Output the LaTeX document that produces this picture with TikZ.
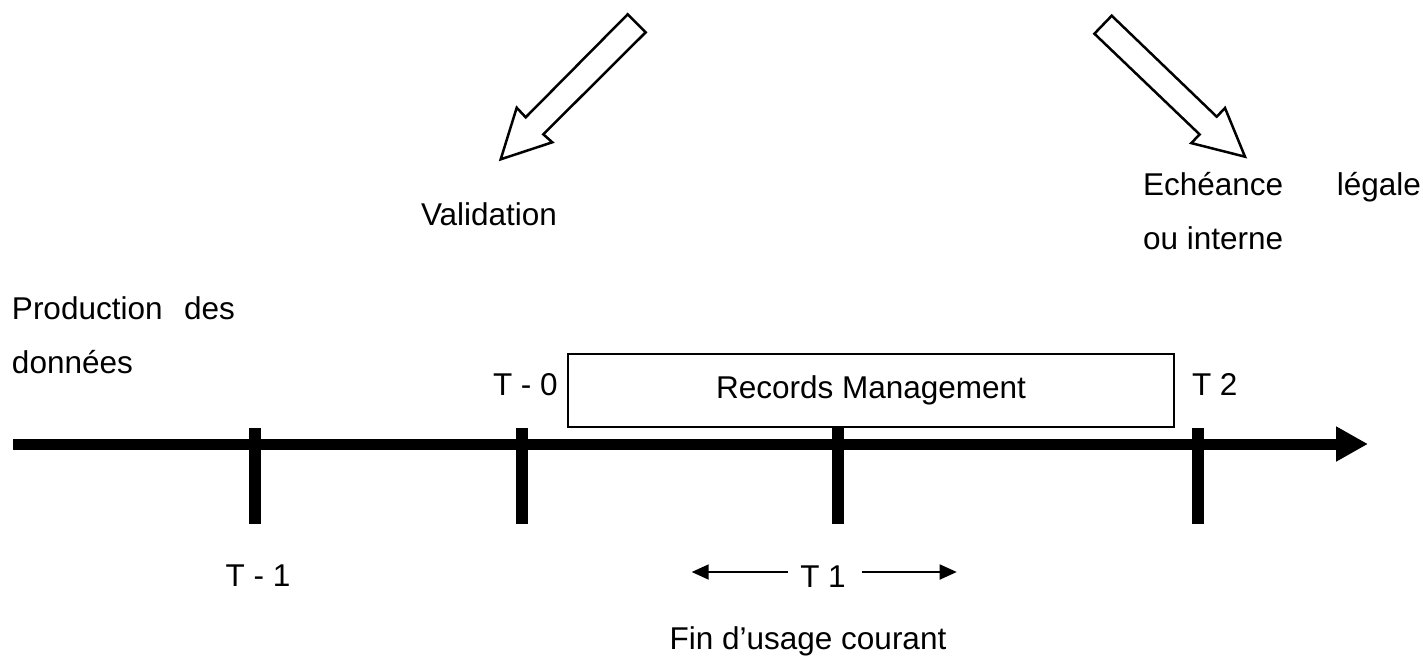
\documentclass[tikz,border=0pt]{standalone}
\usepackage{fontspec}
\setmainfont{Liberation Sans}
\usetikzlibrary{arrows.meta}
\begin{document}
\begin{tikzpicture}[x=1pt,y=-1pt,
  txt/.style={font=\fontsize{31.5pt}{38pt}\selectfont, inner sep=0pt, outer sep=0pt},
  blockarrow/.style={draw=black, line width=2.5pt, fill=white, line join=miter},
  tickmark/.style={line width=12pt},
  axisline/.style={line width=11pt, -{Triangle[length=32pt,width=33pt]}},
  smallarrow/.style={line width=1.8pt, -{Triangle[length=17pt,width=15pt]}},
  boxnode/.style={draw, line width=2pt, minimum width=606pt, minimum height=73pt, inner sep=0pt, font=\fontsize{31.5pt}{38pt}\selectfont}
]
\fill[white] (0,0) rectangle (1423,664);
\useasboundingbox (0,0) rectangle (1423,664);

% hollow block arrows
\draw[blockarrow] (627.7,14.3) -- (525.7,117.3) -- (516.7,107.7) -- (500.7,159.3) -- (552.3,142.3) -- (543.3,134.3) -- (645.7,32.3) -- cycle;
\draw[blockarrow] (1111.7,15.7) -- (1216.7,116.7) -- (1225,108) -- (1245,156.7) -- (1191.3,143.1) -- (1199.6,134.4) -- (1094.4,33.7) -- cycle;

% time axis
\coordinate (axS) at (13,444);
\coordinate (axE) at (1368,444);
\draw[axisline] (axS) -- (axE);
\foreach \n/\x in {ta/255, tb/522, tc/838, td/1198} {
  \coordinate (\n top) at (\x,428);
  \coordinate (\n bot) at (\x,524);
  \draw[tickmark] (\n top) -- (\n bot);
}

% texts
\node[txt, anchor=base west] (val) at (421,225) {Validation};
\node[txt, anchor=base west] (ech) at (1143,195) {\makebox[278pt][s]{Echéance légale}};
\node[txt, anchor=base west] (oui) at (1143,249) {ou interne};
\node[txt, anchor=base west] (prod) at (12,319) {\makebox[223pt][s]{Production des}};
\node[txt, anchor=base west] (don) at (12,373) {données};
\node[txt, anchor=base west] (tz) at (493,395) {T - 0};
\node[boxnode] (rm) at (871,390.5) {Records Management};
\node[txt, anchor=base west] (ttwo) at (1192,395) {T 2};
\node[txt, anchor=base] (tm1) at (258,586) {T - 1};
\node[txt, anchor=base] (tone) at (823,587) {T 1};
\coordinate (tlA) at (788,572);
\coordinate (tlB) at (691.7,572);
\coordinate (trA) at (861.7,572);
\coordinate (trB) at (956.7,572);
\draw[smallarrow] (tlA) -- (tlB);
\draw[smallarrow] (trA) -- (trB);
\node[txt, anchor=base] (fin) at (808,649) {Fin d’usage courant};
\end{tikzpicture}
\end{document}
